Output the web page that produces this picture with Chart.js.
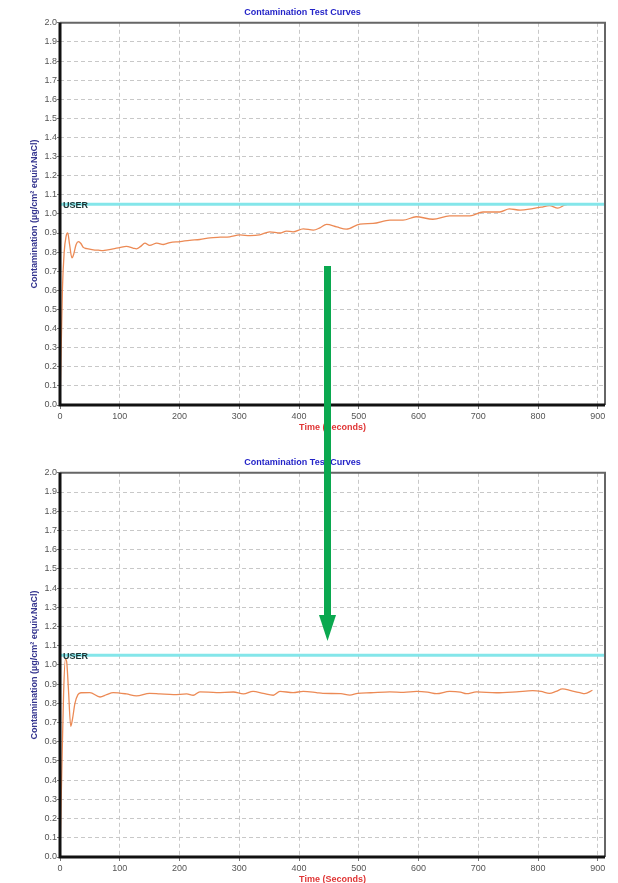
<!DOCTYPE html>
<html>
<head>
<meta charset="utf-8">
<script src="https://cdn.jsdelivr.net/npm/chart.js@4.4.1/dist/chart.umd.min.js"></script>
<style>
  html, body { margin: 0; padding: 0; background: #fff; overflow: hidden; }
  #page { position: relative; width: 618px; height: 883px; overflow: hidden; }
  .box { position: absolute; left: 0; width: 618px; }
  #box1 { top: 0; height: 450px; }
  #box2 { top: 450px; height: 452px; }
  #arrow { position: absolute; left: 0; top: 0; pointer-events: none; }
</style>
</head>
<body>
<div id="page">
  <div class="box" id="box1"><canvas id="chart1"></canvas></div>
  <div class="box" id="box2"><canvas id="chart2"></canvas></div>
  <svg id="arrow" width="618" height="883">
    <rect x="324" y="266" width="7" height="350" fill="#0aa84f"/>
    <polygon points="319,615 336,615 327.5,641" fill="#0aa84f"/>
  </svg>
</div>
<script>
// Labels
const chartTitle = 'Contamination Test Curves';
const xTitle = 'Time (Seconds)';
const yTitle = 'Contamination (µg/cm² equiv.NaCl)';
const userLabel = 'USER';

// Axis ranges
const xMax = 912;
const xStep = 100;
const yMax = 2.0;
const userLimit = 1.05;

// First run (top chart)
const timeBefore = [0, 2, 4, 7, 10, 13, 16, 20, 23, 27, 31, 35, 39, 45, 56, 64, 72, 80, 89, 100,
  111, 123, 128, 135, 142, 150, 162, 173, 184, 201, 217, 234, 251, 268, 284, 301, 318, 334, 351, 368,
  379, 390, 407, 424, 435, 446, 463, 479, 502, 524, 552, 574, 596, 624, 652, 686, 708, 736, 752, 770,
  791, 805, 819, 833, 845, 848];
const valueBefore = [0.0, 0.3, 0.6, 0.8, 0.88, 0.9, 0.84, 0.77, 0.79, 0.84, 0.855, 0.845, 0.825, 0.818, 0.812, 0.81, 0.808, 0.812, 0.817, 0.824,
  0.83, 0.82, 0.817, 0.83, 0.847, 0.835, 0.847, 0.84, 0.85, 0.855, 0.862, 0.866, 0.875, 0.878, 0.88, 0.89, 0.886, 0.89, 0.906, 0.9,
  0.91, 0.906, 0.922, 0.915, 0.927, 0.945, 0.932, 0.92, 0.947, 0.95, 0.967, 0.967, 0.985, 0.972, 0.99, 0.99, 1.01, 1.01, 1.026, 1.02,
  1.028, 1.035, 1.043, 1.03, 1.047, 1.048];

// Second run (bottom chart)
const timeAfter = [0, 3, 6, 9, 11, 14, 18, 21, 25, 30, 35, 50, 67, 78, 89, 111, 128, 150, 167, 190,
  212, 223, 234, 262, 290, 307, 323, 340, 357, 368, 390, 407, 429, 440, 470, 485, 498, 520, 552, 575,
  597, 615, 630, 652, 670, 680, 697, 730, 764, 791, 805, 819, 830, 841, 855, 870, 878, 891];
const valueAfter = [0.0, 0.45, 0.85, 1.03, 1.02, 0.88, 0.68, 0.72, 0.8, 0.845, 0.855, 0.856, 0.833, 0.845, 0.856, 0.849, 0.839, 0.852, 0.849, 0.845,
  0.849, 0.842, 0.86, 0.856, 0.859, 0.849, 0.862, 0.852, 0.842, 0.862, 0.856, 0.862, 0.856, 0.852, 0.85, 0.843, 0.852, 0.855, 0.86, 0.857,
  0.862, 0.858, 0.85, 0.862, 0.858, 0.85, 0.86, 0.855, 0.86, 0.866, 0.862, 0.852, 0.862, 0.875, 0.866, 0.856, 0.85, 0.868];

Chart.defaults.font.family = '"Liberation Sans", Arial, sans-serif';
Chart.defaults.font.size = 9;

// Box around the plot plus the USER label on the limit line
const framePlugin = {
  id: 'frame',
  afterDraw(chart) {
    const ctx = chart.ctx;
    const a = chart.chartArea;
    ctx.save();
    ctx.strokeStyle = '#666';
    ctx.lineWidth = 2;
    ctx.beginPath();
    ctx.moveTo(a.left, a.top);
    ctx.lineTo(a.right, a.top);
    ctx.lineTo(a.right, a.bottom);
    ctx.stroke();
    ctx.strokeStyle = '#111';
    ctx.lineWidth = 3;
    ctx.beginPath();
    ctx.moveTo(a.left, a.top);
    ctx.lineTo(a.left, a.bottom);
    ctx.lineTo(a.right, a.bottom);
    ctx.stroke();

    const y = chart.scales.y.getPixelForValue(userLimit);
    ctx.font = 'bold 9px "Liberation Sans", Arial, sans-serif';
    ctx.fillStyle = '#1c3434';
    ctx.textBaseline = 'middle';
    ctx.fillText(userLabel, a.left + 3, y + 1);
    ctx.restore();
  }
};

function makeChart(id, times, values) {
  const points = times.map((t, i) => ({ x: t, y: values[i] }));
  const userLine = [{ x: 0, y: userLimit }, { x: xMax, y: userLimit }];

  return new Chart(document.getElementById(id), {
    type: 'line',
    data: {
      datasets: [{
        data: userLine,
        borderColor: '#84e6ea',
        borderWidth: 3,
        pointRadius: 0
      }, {
        data: points,
        borderColor: '#ec8a55',
        borderWidth: 1.3,
        pointRadius: 0,
        cubicInterpolationMode: 'monotone'
      }]
    },
    options: {
      responsive: true,
      maintainAspectRatio: false,
      animation: false,
      layout: { padding: { left: 0, right: 13, top: 0, bottom: 0 } },
      plugins: {
        legend: { display: false },
        tooltip: { enabled: false },
        title: {
          display: true,
          text: chartTitle,
          color: '#2424c8',
          font: { size: 9, weight: 'bold' },
          padding: { top: 7, bottom: 5 }
        }
      },
      scales: {
        x: {
          type: 'linear',
          min: 0,
          max: xMax,
          bounds: 'data',
          afterFit: (s) => { s.height = 45; },
          // only keep the round hundreds, no tick at the axis end
          afterBuildTicks: (s) => { s.ticks = s.ticks.filter(t => t.value % xStep === 0); },
          ticks: {
            stepSize: xStep,
            maxRotation: 0,
            color: '#555',
            padding: 2
          },
          grid: { color: '#c8c8c8', tickLength: 4, tickColor: '#777' },
          border: { display: false, dash: [4, 3] },
          title: {
            display: true,
            text: xTitle,
            color: '#e03535',
            font: { size: 9, weight: 'bold' },
            padding: { top: 0, bottom: 17 }
          }
        },
        y: {
          min: 0,
          max: yMax,
          afterFit: (s) => { s.width = 60; },
          ticks: {
            stepSize: 0.1,
            autoSkip: false,
            color: '#555',
            padding: 0,
            callback: (v) => v.toFixed(1)
          },
          grid: { color: '#c8c8c8', tickLength: 3, tickColor: '#777' },
          border: { display: false, dash: [4, 3] },
          title: {
            display: true,
            text: yTitle,
            color: '#35358f',
            font: { size: 9, weight: 'bold' },
            padding: { top: 29, bottom: 0 }
          }
        }
      }
    },
    plugins: [framePlugin]
  });
}

makeChart('chart1', timeBefore, valueBefore);
makeChart('chart2', timeAfter, valueAfter);
</script>
</body>
</html>
